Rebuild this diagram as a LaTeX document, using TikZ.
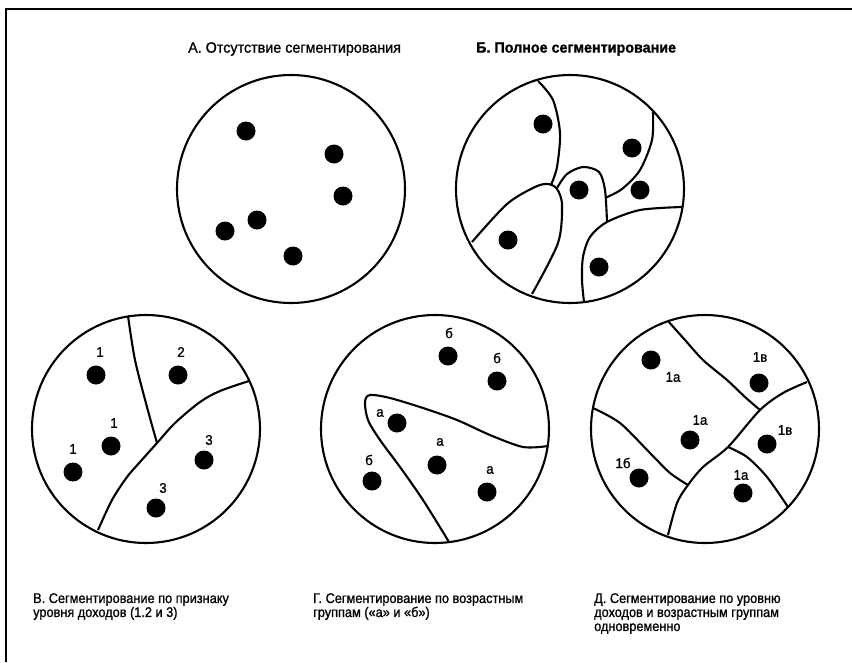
\documentclass[tikz,border=0pt]{standalone}
\usepackage{fontspec}
\setmainfont[FakeStretch=0.955,FakeBold=1]{Liberation Sans}
\newfontfamily\captfont[FakeStretch=0.91,FakeBold=1]{Liberation Sans}
\usepackage{tikz}

\begin{document}
\begin{tikzpicture}[x=1pt,y=-1pt,
  dot/.style={circle,fill=black,inner sep=0pt,minimum size=19pt},
  lbl/.style={inner sep=0pt,font=\fontsize{14}{14}\selectfont},
  seg/.style={line width=2.1pt},
  ttl/.style={anchor=west,inner sep=0pt,font=\fontsize{15}{16}\selectfont},
  capt/.style={anchor=north west,inner sep=0pt,align=left,font=\captfont\fontsize{14}{14}\selectfont}]
\useasboundingbox (0,0) rectangle (852,662);
\draw[line width=2.4pt] (6,662) -- (6,9) -- (852,9);
\node[ttl] (tA) at (188,49) {А. Отсутствие сегментирования};
\node[ttl,font=\fontsize{15}{16}\selectfont\bfseries] (tB) at (476,49) {Б. Полное сегментирование};
\draw[seg] (291,189) circle (114pt);
\draw[seg] (570,189) circle (114pt);
\draw[seg] (146,429) circle (114pt);
\draw[seg] (435,429) circle (114pt);
\draw[seg] (705,429) circle (114pt);
\node[dot] (a1) at (246,131) {};
\node[dot] (a2) at (334,154) {};
\node[dot] (a3) at (343,196) {};
\node[dot] (a4) at (257,220) {};
\node[dot] (a5) at (225,231) {};
\node[dot] (a6) at (293,256) {};
\draw[seg] plot[smooth] coordinates {(538,81) (553,100) (560,133) (557,167) (551,185)};
\draw[seg] plot[smooth] coordinates {(472,242) (507,204) (535,187) (548,184) (557,189) (562,205) (558,243) (532,294)};
\draw[seg] plot[smooth] coordinates {(557,188) (567,174) (583,167) (599,172) (605,190) (607,222)};
\draw[seg] plot[smooth] coordinates {(653,112) (652,140) (640,170) (622,189) (605,198)};
\draw[seg] plot[smooth] coordinates {(682,207) (640,210) (607,222) (590,237) (583,257) (582,280) (584,302)};
\node[dot] (b1) at (543,124) {};
\node[dot] (b2) at (632,148) {};
\node[dot] (b3) at (579,190) {};
\node[dot] (b4) at (640,190) {};
\node[dot] (b5) at (508,240) {};
\node[dot] (b6) at (599,267) {};
\draw[seg] plot[smooth] coordinates {(128,316) (135,360) (147,407) (157,443)};
\draw[seg] plot[smooth] coordinates {(249,381) (220,391) (200,402) (175,423) (157,443) (140,462) (127,477) (112,500) (98,530)};
\node[dot] (v1) at (96,375) {};
\node[dot] (v2) at (178,375) {};
\node[dot] (v3) at (111,446) {};
\node[dot] (v4) at (73,472) {};
\node[dot] (v5) at (204,460) {};
\node[dot] (v6) at (156,508) {};
\node[lbl] (lv1) at (100,352) {1};
\node[lbl] (lv2) at (181,352) {2};
\node[lbl] (lv3) at (114,423) {1};
\node[lbl] (lv4) at (73,449) {1};
\node[lbl] (lv5) at (209,440) {3};
\node[lbl] (lv6) at (163,488) {3};
\draw[seg] plot[smooth] coordinates {(548,446) (523,447) (490,435) (457,420) (423,408) (390,398) (370,395) (365,402) (368,420) (380,440) (400,467) (423,500) (449,542)};
\node[dot] (g1) at (448,356) {};
\node[dot] (g2) at (497,381) {};
\node[dot] (g3) at (397,423) {};
\node[dot] (g4) at (437,465) {};
\node[dot] (g5) at (372,481) {};
\node[dot] (g6) at (487,492) {};
\node[lbl] (lg1) at (449,333) {б};
\node[lbl] (lg2) at (497,358) {б};
\node[lbl] (lg3) at (380,413) {а};
\node[lbl] (lg4) at (440,442) {а};
\node[lbl] (lg5) at (369,460) {б};
\node[lbl] (lg6) at (490,470) {а};
\draw[seg] plot[smooth] coordinates {(668,321) (685,340) (703,360) (727,380) (745,397) (760,410)};
\draw[seg] plot[smooth] coordinates {(807,382) (783,393) (760,410) (728,447) (703,467) (688,485) (677,503) (668,535)};
\draw[seg] plot[smooth] coordinates {(593,408) (620,423) (650,453) (670,473) (688,485)};
\draw[seg] plot[smooth] coordinates {(728,447) (747,457) (767,477) (788,507)};
\node[dot] (d1) at (651,360) {};
\node[dot] (d2) at (759,383) {};
\node[dot] (d3) at (690,440) {};
\node[dot] (d4) at (767,444) {};
\node[dot] (d5) at (639,478) {};
\node[dot] (d6) at (743,493) {};
\node[lbl] (ld1) at (673,377) {1а};
\node[lbl] (ld2) at (760,357) {1в};
\node[lbl] (ld3) at (700,420) {1а};
\node[lbl] (ld4) at (785,430) {1в};
\node[lbl] (ld5) at (623,463) {1б};
\node[lbl] (ld6) at (741,475) {1а};
\node[capt] (cV) at (33,593) {В. Сегментирование по признаку\\уровня доходов (1.2 и 3)};
\node[capt] (cG) at (313,593) {Г. Сегментирование по возрастным\\группам («а» и «б»)};
\node[capt] (cD) at (594,593) {Д. Сегментирование по уровню\\доходов и возрастным группам\\одновременно};
\end{tikzpicture}
\end{document}
